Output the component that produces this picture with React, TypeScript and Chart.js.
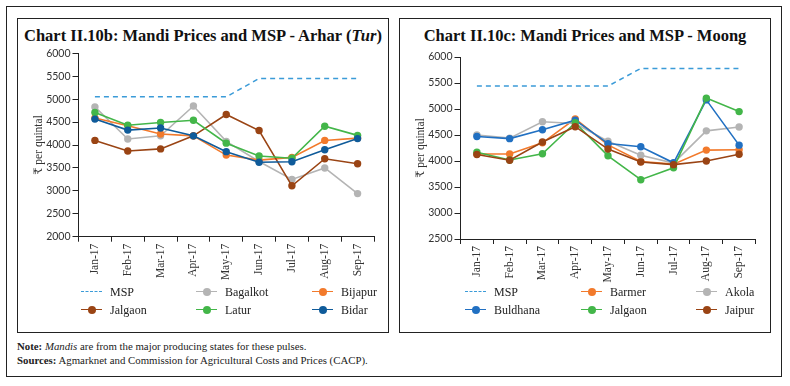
import React, { useEffect, useRef } from "react";
import { Chart, registerables } from "chart.js";

Chart.register(...registerables);

const months = ["Jan-17", "Feb-17", "Mar-17", "Apr-17", "May-17", "Jun-17", "Jul-17", "Aug-17", "Sep-17"];

// Chart II.10b: Arhar (Tur)
const arharNames = ["MSP", "Bagalkot", "Bijapur", "Jalgaon", "Latur", "Bidar"];
const arharMSP = [5050, 5050, 5050, 5050, 5050, 5450, 5450, 5450, 5450];
const arharBagalkot = [4830, 4130, 4200, 4850, 4080, 3640, 3250, 3500, 2940];
const arharBijapur = [4590, 4420, 4240, 4200, 3780, 3670, 3730, 4100, 4150];
const arharJalgaon = [4100, 3870, 3915, 4200, 4665, 4315, 3110, 3700, 3590];
const arharLatur = [4710, 4430, 4490, 4540, 4040, 3760, 3710, 4410, 4210];
const arharBidar = [4565, 4325, 4370, 4200, 3855, 3625, 3635, 3895, 4140];
const arharTicks = [2000, 2500, 3000, 3500, 4000, 4500, 5000, 5500, 6000];

// Chart II.10c: Moong
const moongNames = ["MSP", "Barmer", "Akola", "Buldhana", "Jalgaon", "Jaipur"];
const moongMSP = [5440, 5440, 5440, 5440, 5440, 5780, 5780, 5780, 5780];
const moongBarmer = [4135, 4135, 4350, 4810, 4310, 3990, 3940, 4210, 4215];
const moongAkola = [4500, 4440, 4755, 4720, 4380, 4110, 3960, 4580, 4655];
const moongBuldhana = [4470, 4430, 4600, 4785, 4335, 4275, 3965, 5175, 4305];
const moongJalgaon = [4170, 4020, 4140, 4735, 4100, 3640, 3870, 5210, 4950];
const moongJaipur = [4125, 4015, 4365, 4660, 4230, 3980, 3930, 4000, 4130];
const moongTicks = [2500, 3000, 3500, 4000, 4500, 5000, 5500, 6000];

const C_MSP = "#3b9bd8";
const C_GRAY = "#b4b4b4";
const C_ORANGE = "#f27a2c";
const C_BROWN = "#9a4414";
const C_GREEN = "#43b649";
const C_DBLUE = "#0f5b9a";
const C_BLUE = "#2170c2";

const SERIF = "'Liberation Serif', 'DejaVu Serif', serif";
const SANS = "Lato, 'Liberation Sans', sans-serif";

type Series = { name: string; data: number[]; color: string; dashed?: boolean };

type PanelProps = {
  left: number;
  top: number;
  width: number;
  height: number;
  series: Series[];
  yMin: number;
  yMax: number;
  yTicks: number[];
  yWidth: number;
  xHeight: number;
  padTop: number;
  padRight: number;
};

function LineChart(p: PanelProps) {
  const ref = useRef<HTMLCanvasElement | null>(null);
  useEffect(() => {
    if (!ref.current) return;
    const n = p.series.length;
    const chart = new Chart(ref.current, {
      type: "line",
      data: {
        labels: months,
        datasets: p.series.map((s, i) => ({
          label: s.name,
          data: s.data,
          borderColor: s.color,
          backgroundColor: s.color,
          borderWidth: s.dashed ? 1.5 : 1.6,
          borderDash: s.dashed ? [5, 4] : [],
          pointRadius: s.dashed ? 0 : 3.7,
          pointBorderWidth: 0,
          pointBackgroundColor: s.color,
          tension: 0,
          fill: false,
          order: n - i,
        })),
      },
      options: {
        animation: false,
        responsive: false,
        maintainAspectRatio: false,
        layout: { padding: { left: 0, top: p.padTop, right: p.padRight, bottom: 0 } },
        plugins: { legend: { display: false }, tooltip: { enabled: false }, title: { display: false } },
        scales: {
          x: {
            type: "category",
            offset: true,
            grid: {
              offset: true,
              drawOnChartArea: false,
              drawTicks: true,
              tickLength: 5,
              color: "#222",
            },
            border: { display: true, color: "#222", width: 1 },
            ticks: {
              minRotation: 90,
              maxRotation: 90,
              autoSkip: false,
              padding: 2,
              color: "#333",
              font: { family: SERIF, size: 11.5 },
            },
            afterFit: (scale: any) => {
              scale.height = p.xHeight;
            },
          },
          y: {
            min: p.yMin,
            max: p.yMax,
            afterBuildTicks: (scale: any) => {
              scale.ticks = p.yTicks.map((v) => ({ value: v }));
            },
            grid: { drawOnChartArea: false, drawTicks: true, tickLength: 6, color: "#222" },
            border: { display: true, color: "#222", width: 1 },
            ticks: {
              color: "#333",
              padding: 2,
              font: { family: SANS, size: 10.5 },
              callback: (v: any) => String(v),
            },
            title: {
              display: true,
              text: "₹ per quintal",
              color: "#333",
              font: { family: SERIF, size: 11.5 },
              padding: { top: 15, bottom: 0 },
            },
            afterFit: (scale: any) => {
              scale.width = p.yWidth;
            },
          },
        },
      },
    });
    return () => chart.destroy();
  }, []);
  return (
    <canvas
      ref={ref}
      width={p.width}
      height={p.height}
      style={{ position: "absolute", left: p.left, top: p.top, width: p.width, height: p.height }}
    />
  );
}

function Legend({ series, x, y, cols }: { series: Series[]; x: number[]; y: number[]; cols: number }) {
  return (
    <>
      {series.map((s, i) => {
        const lx = x[i % cols];
        const ly = y[Math.floor(i / cols)];
        return (
          <div key={s.name} style={{ position: "absolute", left: lx, top: ly - 8, height: 16 }}>
            <div
              style={{
                position: "absolute",
                left: 0,
                top: 7,
                width: 21,
                height: 0,
                borderTop: s.dashed ? `1.5px dashed ${s.color}` : `1.6px solid ${s.color}`,
              }}
            />
            {!s.dashed && (
              <div
                style={{
                  position: "absolute",
                  left: 6.5,
                  top: 4,
                  width: 8,
                  height: 8,
                  borderRadius: "50%",
                  background: s.color,
                }}
              />
            )}
            <div
              style={{
                position: "absolute",
                left: 29,
                top: 0,
                whiteSpace: "nowrap",
                fontFamily: SERIF,
                fontSize: 12,
                lineHeight: "16px",
                color: "#222",
              }}
            >
              {s.name}
            </div>
          </div>
        );
      })}
    </>
  );
}

export default function App() {
  const arharSeries: Series[] = [
    { name: arharNames[0], data: arharMSP, color: C_MSP, dashed: true },
    { name: arharNames[1], data: arharBagalkot, color: C_GRAY },
    { name: arharNames[2], data: arharBijapur, color: C_ORANGE },
    { name: arharNames[3], data: arharJalgaon, color: C_BROWN },
    { name: arharNames[4], data: arharLatur, color: C_GREEN },
    { name: arharNames[5], data: arharBidar, color: C_DBLUE },
  ];
  const moongSeries: Series[] = [
    { name: moongNames[0], data: moongMSP, color: C_MSP, dashed: true },
    { name: moongNames[1], data: moongBarmer, color: C_ORANGE },
    { name: moongNames[2], data: moongAkola, color: C_GRAY },
    { name: moongNames[3], data: moongBuldhana, color: C_BLUE },
    { name: moongNames[4], data: moongJalgaon, color: C_GREEN },
    { name: moongNames[5], data: moongJaipur, color: C_BROWN },
  ];

  const titleStyle: React.CSSProperties = {
    position: "absolute",
    top: 25,
    textAlign: "center",
    fontFamily: SERIF,
    fontWeight: "bold",
    fontSize: 16.5,
    lineHeight: "22px",
    color: "#111",
    whiteSpace: "nowrap",
  };

  return (
    <div style={{ position: "absolute", left: 0, top: 0, width: 790, height: 386, background: "#fff", overflow: "hidden" }}>
      {/* outer frame */}
      <div style={{ position: "absolute", left: 6, top: 6, width: 776, height: 371, border: "1px solid #222", boxSizing: "border-box" }} />
      {/* inner boxes */}
      <div style={{ position: "absolute", left: 17, top: 18, width: 372, height: 315, border: "1px solid #222", boxSizing: "border-box" }} />
      <div style={{ position: "absolute", left: 399, top: 18, width: 372, height: 315, border: "1px solid #222", boxSizing: "border-box" }} />

      <div style={{ ...titleStyle, left: 17, width: 372 }}>
        Chart II.10b: Mandi Prices and MSP - Arhar (<i>Tur</i>)
      </div>
      <div style={{ ...titleStyle, left: 399, width: 372 }}>Chart II.10c: Mandi Prices and MSP - Moong</div>

      <LineChart
        left={17}
        top={45}
        width={372}
        height={250}
        series={arharSeries}
        yMin={2000}
        yMax={6000}
        yTicks={arharTicks}
        yWidth={61.5}
        xHeight={58.3}
        padTop={8.3}
        padRight={15}
      />
      <LineChart
        left={399}
        top={45}
        width={372}
        height={250}
        series={moongSeries}
        yMin={2500}
        yMax={6000}
        yTicks={moongTicks}
        yWidth={61.5}
        xHeight={56}
        padTop={12}
        padRight={15.5}
      />

      <Legend series={arharSeries} x={[81, 196, 312]} y={[292, 310]} cols={3} />
      <Legend series={moongSeries} x={[465, 581, 696]} y={[292, 310]} cols={3} />

      <div style={{ position: "absolute", left: 17, top: 339, fontFamily: SERIF, fontSize: 10.8, lineHeight: "14px", color: "#222", whiteSpace: "nowrap" }}>
        <b>Note:</b> <i>Mandis</i> are from the major producing states for these pulses.
      </div>
      <div style={{ position: "absolute", left: 17, top: 353, fontFamily: SERIF, fontSize: 10.8, lineHeight: "14px", color: "#222", whiteSpace: "nowrap" }}>
        <b>Sources:</b> Agmarknet and Commission for Agricultural Costs and Prices (CACP).
      </div>
    </div>
  );
}
